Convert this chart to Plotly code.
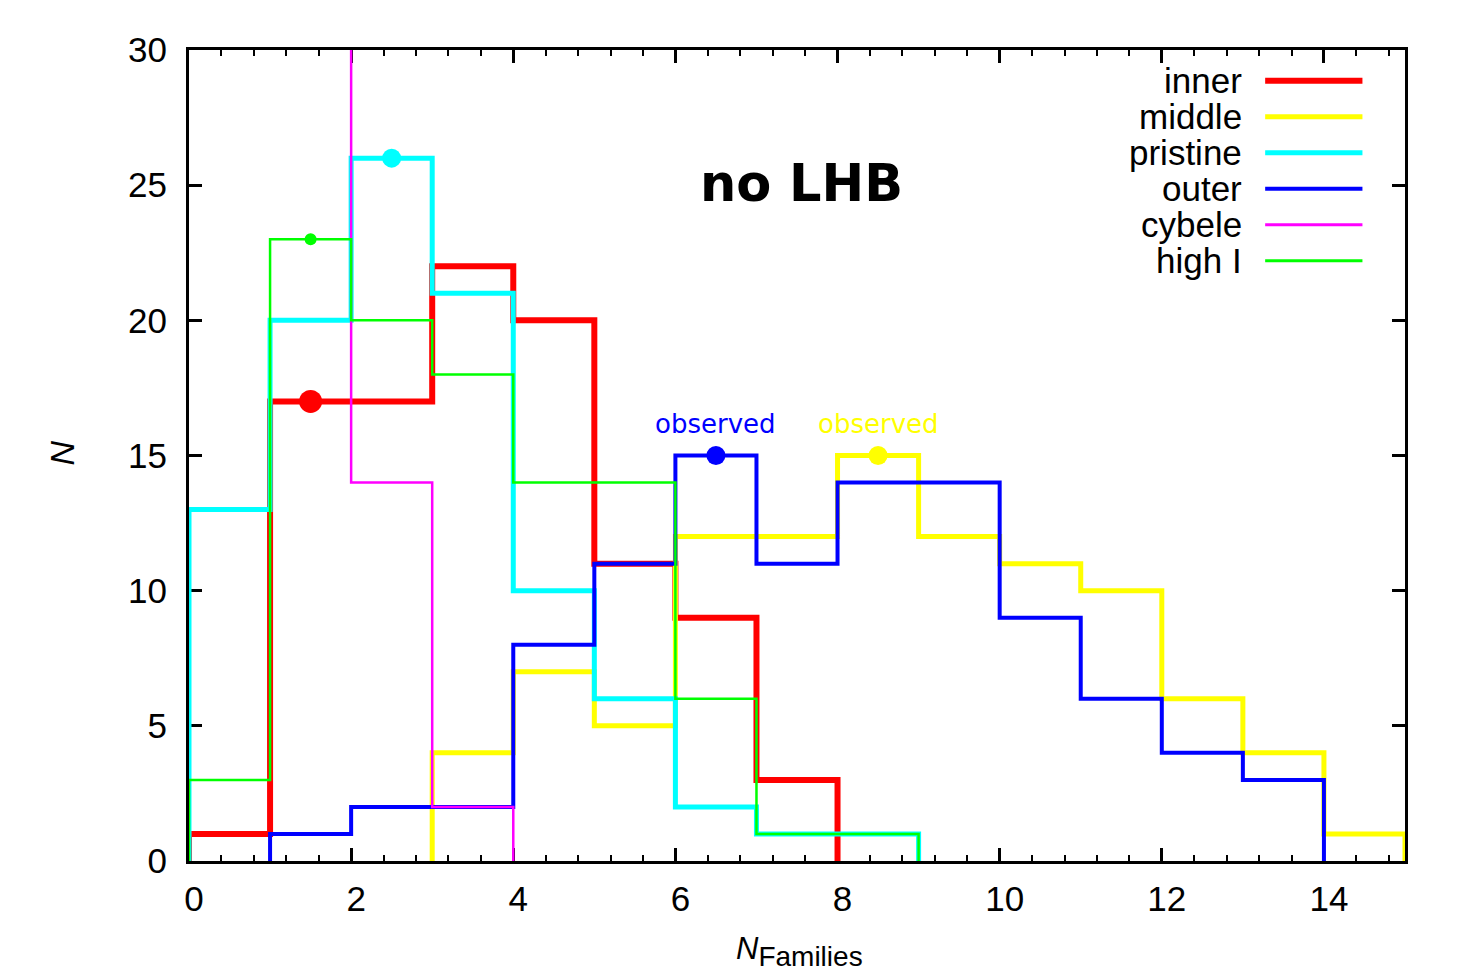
import plotly.graph_objects as go

# ---------------- data (histogram counts, unit-width bins) ----------------
bin_width = 1

series_names = ["inner", "middle", "pristine", "outer", "cybele", "high I"]

inner_start = 0
inner_counts = [1, 17, 17, 22, 20, 11, 9, 3]

middle_start = 3
middle_counts = [4, 7, 5, 12, 12, 15, 12, 11, 10, 6, 4, 1]

pristine_start = 0
pristine_counts = [13, 20, 26, 21, 10, 6, 2, 1, 1]

outer_start = 1
outer_counts = [1, 2, 2, 8, 11, 15, 11, 14, 14, 9, 6, 4, 3]

cybele_start = 2          # the preceding bin (1-2) is off scale (> 30)
cybele_counts = [14, 2]

highi_start = 0
highi_counts = [3, 23, 20, 18, 14, 14, 6, 1, 1]

# highlighted bins (bin centre, count)
mark_series = ["inner", "pristine", "high I", "outer", "middle"]
mark_x = [1.5, 2.5, 1.5, 6.5, 8.5]
mark_y = [17, 26, 23, 15, 15]
mark_label = ["", "", "", "observed", "observed"]

x_range = [0, 15]
y_range = [0, 30]
x_tick_labels = ["0", "2", "4", "6", "8", "10", "12", "14"]
y_tick_labels = ["0", "5", "10", "15", "20", "25", "30"]

# ---------------- styles ----------------
colors = {"inner": "#ff0000", "middle": "#ffff00", "pristine": "#00ffff",
          "outer": "#0000ff", "cybele": "#ff00ff", "high I": "#00ff00"}
widths = {"inner": 6, "middle": 5, "pristine": 5, "outer": 4,
          "cybele": 2.5, "high I": 2.5}
legend_widths = {"inner": 6, "middle": 5, "pristine": 5, "outer": 4,
                 "cybele": 3, "high I": 3}
mark_sizes = {"inner": 23, "pristine": 19, "high I": 12, "outer": 19, "middle": 19}

starts = {"inner": inner_start, "middle": middle_start, "pristine": pristine_start,
          "outer": outer_start, "cybele": cybele_start, "high I": highi_start}
counts = {"inner": inner_counts, "middle": middle_counts, "pristine": pristine_counts,
          "outer": outer_counts, "cybele": cybele_counts, "high I": highi_counts}
from_top = {"cybele": True}


def step_path(start, cnts, top=False):
    xs = [start]
    ys = [y_range[1] if top else 0]
    for i, c in enumerate(cnts):
        x0 = start + i * bin_width
        xs += [x0, x0 + bin_width]
        ys += [c, c]
    xs.append(start + len(cnts) * bin_width)
    ys.append(0)
    return xs, ys


fig = go.Figure()

for name in series_names:
    xs, ys = step_path(starts[name], counts[name], from_top.get(name, False))
    fig.add_trace(go.Scatter(x=xs, y=ys, mode="lines", name=name,
                             line=dict(color=colors[name], width=widths[name]),
                             showlegend=False, hoverinfo="skip"))

for s, mx, my in zip(mark_series, mark_x, mark_y):
    fig.add_trace(go.Scatter(x=[mx], y=[my], mode="markers",
                             marker=dict(color=colors[s], size=mark_sizes[s], line=dict(width=0)),
                             showlegend=False, hoverinfo="skip"))

annotations = []
for s, mx, my, lab in zip(mark_series, mark_x, mark_y, mark_label):
    if lab:
        annotations.append(dict(x=mx, y=my, xref="x", yref="y", text=lab,
                                showarrow=False, yshift=32, yanchor="middle",
                                font=dict(family="DejaVu Sans", size=26, color=colors[s])))

annotations.append(dict(x=0.504, y=0.836, xref="paper", yref="paper", text="<b>no LHB</b>",
                        showarrow=False, xanchor="center", yanchor="middle",
                        font=dict(family="DejaVu Sans", size=51, color="black")))

# axis titles
annotations.append(dict(x=-0.104, y=0.503, xref="paper", yref="paper", text="<i>N</i>",
                        showarrow=False, textangle=-90, xanchor="center", yanchor="middle",
                        font=dict(family="Liberation Sans", size=34, color="black")))
annotations.append(dict(x=0.502, y=-0.111, xref="paper", yref="paper",
                        text="<i>N</i><sub><span style='font-size:28px'>Families</span></sub>",
                        showarrow=False, xanchor="center", yanchor="middle",
                        font=dict(family="Liberation Sans", size=31, color="black")))

# legend (gnuplot style: right-aligned text, sample line on the right)
shapes = []
leg_text_x = 0.8676
leg_line_x0 = 0.885
leg_line_x1 = 0.965
leg_y0 = 0.962
leg_dy = 0.0444
for i, name in enumerate(series_names):
    yy = leg_y0 - i * leg_dy
    annotations.append(dict(x=leg_text_x, y=yy, xref="paper", yref="paper", text=name,
                            showarrow=False, xanchor="right", yanchor="middle",
                            font=dict(family="Liberation Sans", size=35, color="black")))
    shapes.append(dict(type="line", xref="paper", yref="paper",
                       x0=leg_line_x0, x1=leg_line_x1, y0=yy, y1=yy,
                       line=dict(color=colors[name], width=legend_widths[name])))

axis_common = dict(showgrid=False, zeroline=False, ticks="inside", ticklen=13, tickwidth=2.5,
                   tickcolor="black", linecolor="black", linewidth=3, mirror="ticks",
                   layer="below traces",
                   tickfont=dict(family="Liberation Sans", size=35, color="black"))

fig.update_layout(
    width=1475, height=973, autosize=False,
    margin=dict(l=189, r=70, t=50, b=112),
    paper_bgcolor="white", plot_bgcolor="white",
    xaxis=dict(range=x_range, tickmode="array",
               tickvals=[int(t) for t in x_tick_labels], ticktext=x_tick_labels,
               ticklabelstandoff=5, ticklabelshift=5,
               minor=dict(ticks="inside", ticklen=6, tickwidth=2, tickcolor="black",
                          dtick=0.4, tick0=0, showgrid=False),
               **axis_common),
    yaxis=dict(range=y_range, tickmode="array",
               tickvals=[int(t) for t in y_tick_labels], ticktext=y_tick_labels,
               ticklabelstandoff=12,
               **axis_common),
    annotations=annotations,
    shapes=shapes,
    showlegend=False,
)

fig.write_html("out.html")
